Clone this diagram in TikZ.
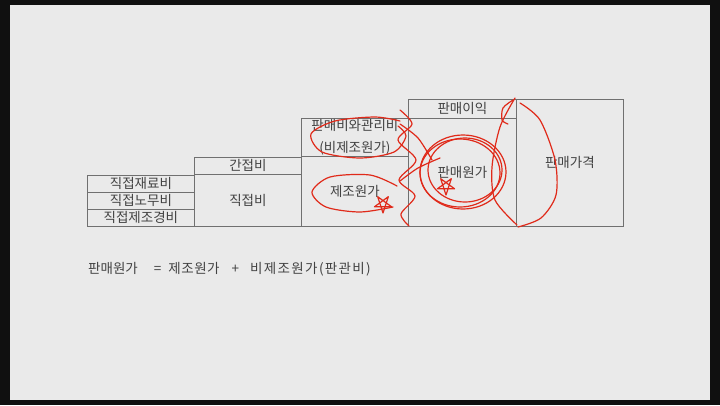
\documentclass[tikz,border=0pt]{standalone}
\usepackage{fontspec}
\setmainfont{Noto Sans CJK KR}
\definecolor{screen}{HTML}{EAEAEA}
\definecolor{rim}{HTML}{101010}
\definecolor{ink}{HTML}{424242}
\definecolor{rule}{HTML}{707070}
\definecolor{pen}{HTML}{E02A1A}
\tikzset{
	cell/.style n args={2}{draw=rule, line width=0.8pt, anchor=north west, inner sep=0pt,
		minimum width=#1pt, minimum height=#2pt, text=ink, font=\fontsize{13.5}{22}\selectfont, align=center},
	scribble/.style={draw=pen, line width=1.2pt, line cap=round, line join=round}
}
\begin{document}
\begin{tikzpicture}[x=1pt, y=-1pt]
		\useasboundingbox (0, 0) rectangle (720, 405);
		\fill[rim] (0, 0) rectangle (720, 405);
		\fill[screen] (10, 5) rectangle (710, 400);

		\node[cell={107}{17}] (jaeryo) at (87, 175) {직접재료비};
		\node[cell={107}{17}] (nomu) at (87, 192) {직접노무비};
		\node[cell={107}{17}] (gyeongbi) at (87, 209) {직접제조경비};
		\node[cell={107}{17}] (ganjeop) at (194, 157) {간접비};
		\node[cell={107}{52}] (jikjeop) at (194, 174) {직접비};
		\node[cell={107}{38}] (panguan) at (301, 118) {판매비와관리비\\(비제조원가)};
		\node[cell={107}{70}] (jejo) at (301, 156) {제조원가};
		\node[cell={108}{19}] (iik) at (408, 99) {판매이익};
		\node[cell={108}{108}] (panwon) at (408, 118) {판매원가};
		\node[cell={107}{127}] (gagyeok) at (516, 99) {판매가격};

		\node[anchor=west, text=ink, inner sep=0pt, font=\fontsize{13.5}{16}\selectfont] (formula) at (88, 269)
			{판매원가\hspace{16pt}=\hspace{7pt}{\addfontfeature{LetterSpace=4}제조원가}\hspace{12pt}+\hspace{11pt}{\addfontfeature{LetterSpace=10}비제조원가(판관비)}};

		\draw[scribble] plot[smooth] coordinates {(400, 121) (375, 117) (335, 121) (311, 134) (322, 152) (360, 158) (394, 152) (406, 136) (398, 126)};
		\draw[scribble] plot[smooth] coordinates {(397, 186) (370, 175) (330, 177) (312, 192) (326, 207) (360, 212) (393, 207)};
		\draw[scribble] plot[smooth] coordinates {(400, 110) (412, 124) (398, 140) (416, 160) (399, 180) (415, 196) (401, 214) (409, 226)};
		\draw[scribble] (383, 204) +(90:9) -- +(234:9) -- +(18:9) -- +(162:9) -- +(306:9) -- cycle;
		\draw[scribble] (463, 172) ellipse[x radius=43, y radius=37];
		\draw[scribble] (460, 173) ellipse[x radius=40, y radius=34];
		\draw[scribble] (465, 170) ellipse[x radius=37, y radius=32];
		\draw[scribble] (446, 186) +(90:9) -- +(234:9) -- +(18:9) -- +(162:9) -- +(306:9) -- cycle;
		\draw[scribble] plot[smooth] coordinates {(400, 124) (418, 138) (432, 160)};
		\draw[scribble] plot[smooth] coordinates {(400, 181) (418, 168) (440, 158)};
		\draw[scribble] plot[smooth] coordinates {(515, 98) (500, 127) (492, 167) (495, 200) (517, 225)};
		\draw[scribble] plot[smooth] coordinates {(513, 100) (503, 108) (502, 120) (508, 124)};
		\draw[scribble] plot[smooth] coordinates {(520, 103) (540, 120) (555, 160) (556, 195) (541, 218) (518, 227)};
	\end{tikzpicture}
\end{document}
